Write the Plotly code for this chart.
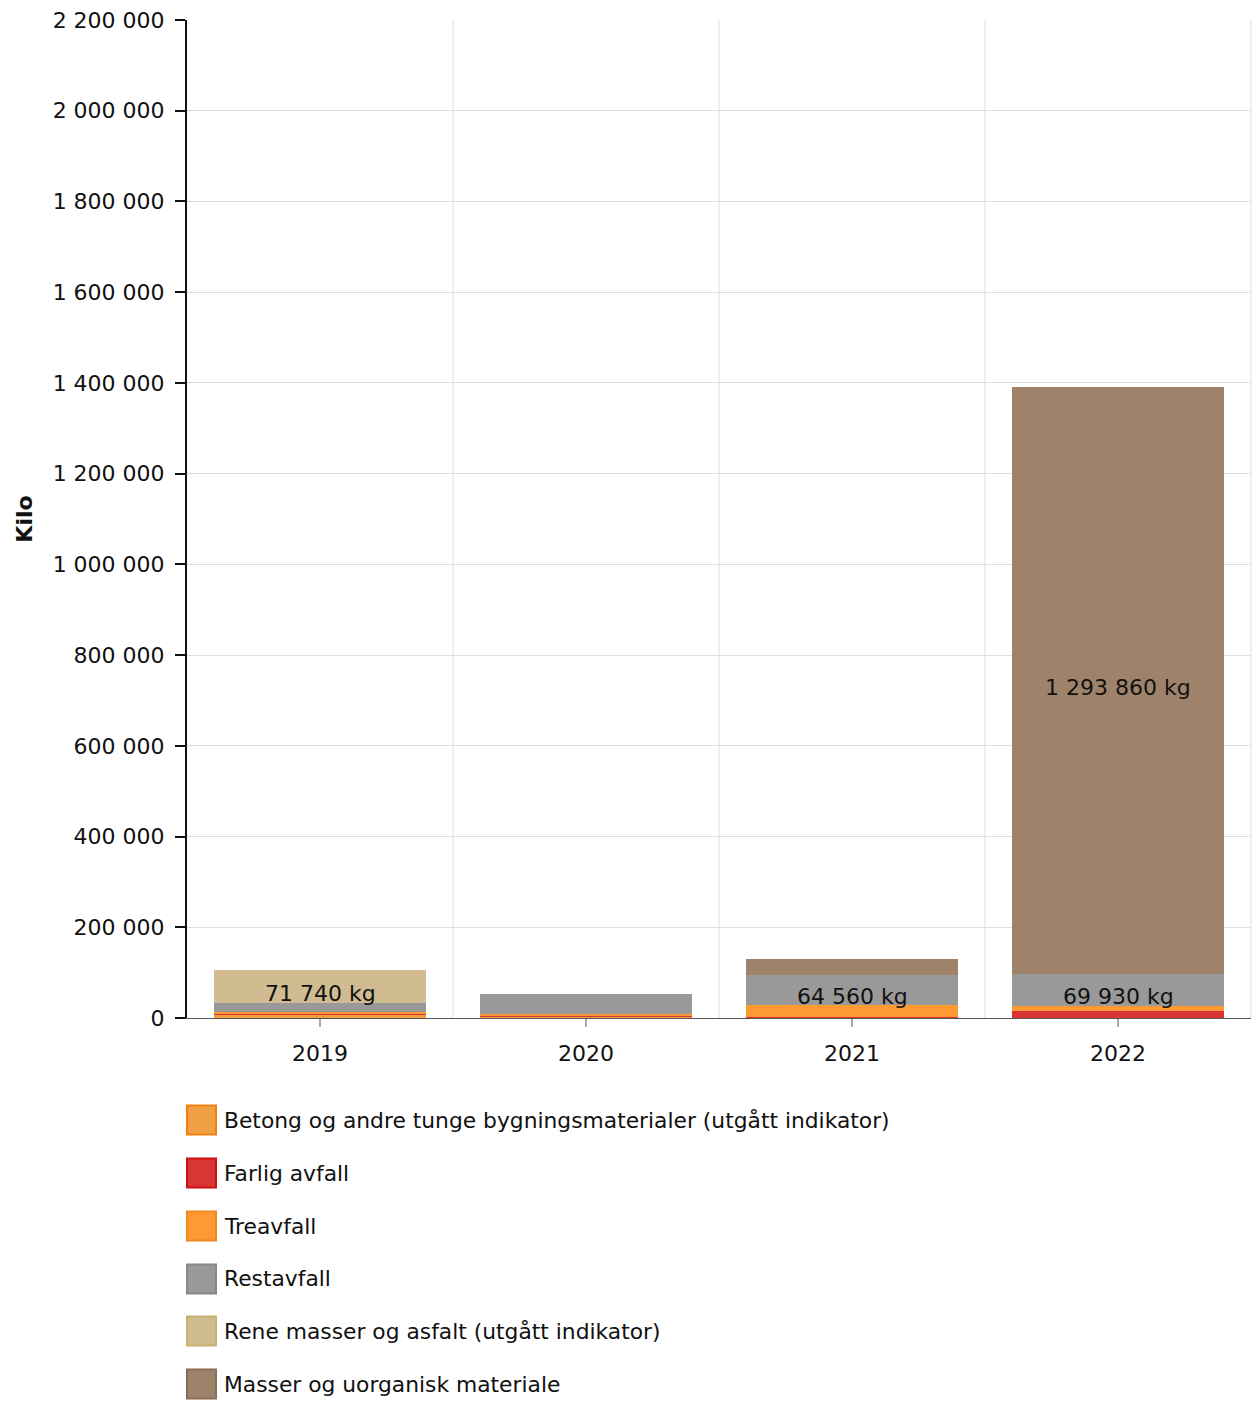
import plotly.graph_objects as go

years = ["2019", "2020", "2021", "2022"]
series_names = [
    "Betong og andre tunge bygningsmaterialer (utgått indikator)",
    "Farlig avfall",
    "Treavfall",
    "Restavfall",
    "Rene masser og asfalt (utgått indikator)",
    "Masser og uorganisk materiale",
]
betong = [8000, 2500, 0, 0]
farlig = [600, 3500, 2500, 16000]
treavfall = [5000, 3000, 27000, 11000]
restavfall = [20000, 44000, 64560, 69930]
rene = [71740, 0, 0, 0]
masser = [0, 0, 36000, 1293860]
series_values = [betong, farlig, treavfall, restavfall, rene, masser]

fills = ["#F0A040", "#D93535", "#FF9933", "#999999", "#D0BC90", "#9E836A"]
borders = ["#F08010", "#CC1010", "#F08A20", "#888888", "#C8B070", "#8B6F55"]

tick_vals = list(range(0, 2200001, 200000))
tick_text = [f"{v:,}".replace(",", " ") for v in tick_vals]

FONT = "DejaVu Sans, Verdana, sans-serif"
FS = 22
W, H = 1255, 1401
L, R, T, B = 187, 4, 20, 383
pw, ph = W - L - R, H - T - B


def px(x):
    return (x - L) / pw


def py(y):
    return (H - B - y) / ph


fig = go.Figure()
for name, vals, c in zip(series_names, series_values, fills):
    fig.add_trace(go.Bar(
        x=years, y=vals, name=name, marker=dict(color=c, line=dict(width=0)),
        showlegend=False, hoverinfo="x+y+name",
    ))

annotations = []
# data labels on large segments (centered, slightly below middle like the reference)
base = [0] * len(years)
for vals in series_values:
    for i, v in enumerate(vals):
        if v >= 60000:
            annotations.append(dict(
                x=i, y=base[i] + v / 2, xref="x", yref="y",
                text=f"{v:,}".replace(",", " ") + " kg", showarrow=False,
                yshift=-7, font=dict(family=FONT, size=FS, color="#111111"),
            ))
        base[i] += v

shapes = []
for xb in [0.5, 1.5, 2.5]:
    shapes.append(dict(type="line", xref="x", yref="paper", x0=xb, x1=xb, y0=0, y1=1,
                       line=dict(color="#DDDDDD", width=1), layer="below"))
shapes.append(dict(type="line", xref="paper", yref="paper", x0=1, x1=1, y0=0, y1=1,
                   line=dict(color="#DDDDDD", width=1), layer="below"))

leg_y = [1120, 1173, 1226, 1279, 1331, 1384]
for name, c, bc, yc in zip(series_names, fills, borders, leg_y):
    shapes.append(dict(type="rect", xref="paper", yref="paper",
                       x0=px(187), x1=px(216), y0=py(yc + 14.5), y1=py(yc - 14.5),
                       fillcolor=c, line=dict(color=bc, width=2)))
    annotations.append(dict(xref="paper", yref="paper", x=px(222), y=py(yc),
                            text=name, showarrow=False, xanchor="left", yanchor="middle",
                            font=dict(family=FONT, size=21.8, color="#111111")))

fig.update_layout(
    width=W, height=H,
    margin=dict(l=L, r=R, t=T, b=B),
    paper_bgcolor="white", plot_bgcolor="white",
    barmode="stack", bargap=0.2,
    separators=", ",
    font=dict(family=FONT, size=FS, color="#111111"),
    shapes=shapes, annotations=annotations,
    showlegend=False,
    xaxis=dict(
        type="category", showgrid=False, showline=True, linecolor="#555555", linewidth=1,
        ticks="outside", ticklen=8, tickcolor="#AAAAAA", tickwidth=2, ticklabelstandoff=8,
        tickfont=dict(family=FONT, size=FS, color="#111111"), range=[-0.5, 3.5],
    ),
    yaxis=dict(
        range=[0, 2200000], tickvals=tick_vals, ticktext=tick_text,
        showgrid=True, gridcolor="#DDDDDD", gridwidth=1,
        showline=True, linecolor="#111111", linewidth=2,
        ticks="outside", ticklen=10, tickcolor="#111111", tickwidth=2, ticklabelstandoff=6,
        tickfont=dict(family=FONT, size=FS, color="#111111"),
        title=dict(text="<b>Kilo</b>", font=dict(family=FONT, size=FS, color="#111111"), standoff=14),
        zeroline=False,
    ),
)

fig.write_html("out.html", config={"displayModeBar": False},
               post_script="document.body.style.margin='0';document.body.style.overflow='hidden';")
